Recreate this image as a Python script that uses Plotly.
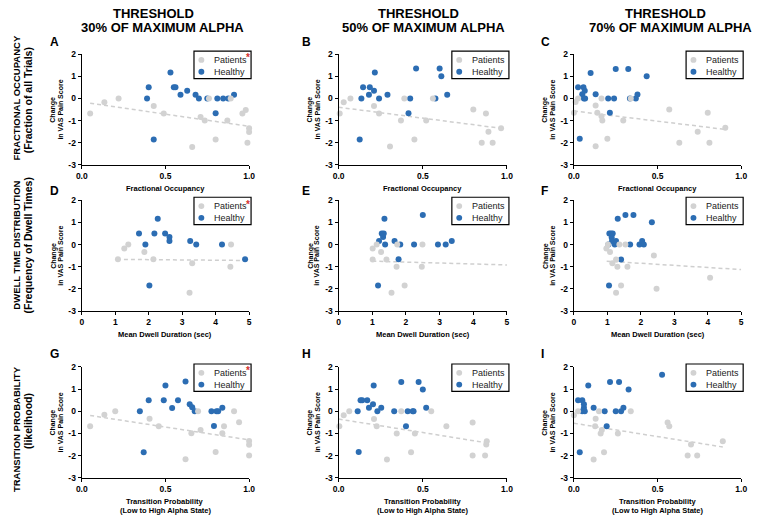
import plotly.graph_objects as go

W, H = 760, 523
FONT = "Liberation Sans"

# ---------------- text ----------------
col_title_top = ["THRESHOLD", "THRESHOLD", "THRESHOLD"]
col_title_bottom = ["30% OF MAXIMUM ALPHA", "50% OF MAXIMUM ALPHA", "70% OF MAXIMUM ALPHA"]
row_title_main = ["FRACTIONAL OCCUPANCY", "DWELL TIME DISTRIBUTION", "TRANSITION PROBABILITY"]
row_title_sub = ["(Fraction of all Trials)", "(Frequency of Dwell Times)", "(likelihood)"]
panel_letters = ["A", "B", "C", "D", "E", "F", "G", "H", "I"]
x_title_lines = [["Fractional Occupancy"], ["Mean Dwell Duration (sec)"],
                 ["Transition Probability", "(Low to High Alpha State)"]]
y_title_lines = ["Change", "in VAS Pain Score"]
legend_names = ["Patients", "Healthy"]
patients_starred = [True, False, False, True, False, False, True, False, False]

y_ticks = [-3, -2, -1, 0, 1, 2]
y_tick_labels = ["-3", "-2", "-1", "0", "1", "2"]
frac_ticks = [0, 0.5, 1.0]
frac_tick_labels = ["0.0", "0.5", "1.0"]
dwell_ticks = [0, 1, 2, 3, 4, 5]
dwell_tick_labels = ["0", "1", "2", "3", "4", "5"]

# ---------------- data ----------------
# A: fractional occupancy, 30%
a_pat_x = [0.05, 0.135, 0.22, 0.43, 0.49, 0.66, 0.71, 0.735, 0.76, 0.80, 0.87, 0.89, 0.96, 0.98, 1.0, 1.0, 0.99]
a_pat_y = [-0.68, -0.18, 0.0, -0.34, -0.68, -2.19, -0.84, -1.0, 0.0, -1.86, -1.0, 0.0, -0.68, -0.52, -1.35, -1.52, -2.0]
a_hea_x = [0.39, 0.40, 0.43, 0.53, 0.55, 0.56, 0.59, 0.63, 0.68, 0.70, 0.75, 0.80, 0.81, 0.845, 0.875, 0.91]
a_hea_y = [0.0, 0.5, -1.86, 1.17, 0.5, 0.5, 0.16, 0.34, 0.16, 0.0, 0.0, -0.67, 0.0, 0.0, 0.0, 0.16]
a_fit_x = [0.05, 1.0]
a_fit_y = [-0.22, -1.26]

# B: fractional occupancy, 50%
b_pat_x = [0.006, 0.03, 0.07, 0.21, 0.24, 0.305, 0.37, 0.39, 0.45, 0.52, 0.56, 0.80, 0.85, 0.875, 0.89, 0.915, 0.965]
b_pat_y = [-0.68, -0.18, 0.0, -0.34, -0.68, -2.17, -1.0, 0.0, -1.85, -1.0, 0.0, -0.5, -2.0, -0.68, -1.5, -2.0, -1.35]
b_hea_x = [0.125, 0.135, 0.145, 0.18, 0.185, 0.21, 0.215, 0.24, 0.29, 0.415, 0.425, 0.46, 0.575, 0.60, 0.61, 0.645]
b_hea_y = [-1.85, 0.0, 0.5, 0.16, 0.5, 0.34, 1.17, 0.0, 0.16, -0.67, 0.0, 1.35, 0.0, 1.35, 1.0, 0.16]
b_fit_x = [0.0, 0.975]
b_fit_y = [-0.40, -1.36]

# C: fractional occupancy, 70%
c_pat_x = [0.0, 0.01, 0.025, 0.13, 0.14, 0.13, 0.165, 0.165, 0.17, 0.20, 0.295, 0.34, 0.57, 0.63, 0.74, 0.80, 0.81, 0.905]
c_pat_y = [-0.65, -0.16, 0.0, -0.32, -0.65, -2.16, 0.0, -0.81, -1.0, -1.82, -1.0, 0.0, -0.5, -2.0, -1.5, -0.65, -2.0, -1.32]
c_hea_x = [0.025, 0.035, 0.05, 0.057, 0.065, 0.06, 0.067, 0.10, 0.13, 0.205, 0.215, 0.24, 0.25, 0.325, 0.335, 0.37, 0.38, 0.435]
c_hea_y = [0.5, -1.82, 0.19, 0.5, 0.34, 0.0, 0.0, 1.15, 0.19, 0.0, -0.65, 0.0, 1.32, 1.32, 0.0, 0.0, 0.18, 1.0]
c_fit_x = [0.0, 0.905]
c_fit_y = [-0.57, -1.40]

# D: dwell duration, 30%
d_pat_x = [1.08, 1.27, 1.39, 1.87, 2.14, 3.22, 3.30, 4.46, 4.44]
d_pat_y = [-0.66, -0.18, 0.0, -0.34, -0.66, -2.17, -0.84, 0.0, -1.0]
d_hea_x = [1.71, 1.90, 2.02, 2.17, 2.27, 2.49, 2.62, 2.62, 3.24, 3.42, 4.19, 4.88]
d_hea_y = [0.5, 0.0, -1.85, 0.5, 1.16, 0.5, 0.34, 0.16, 0.16, 0.0, 0.0, -0.66]
d_fit_x = [1.05, 5.0]
d_fit_y = [-0.67, -0.72]

# E: dwell duration, 50%
e_pat_x = [1.01, 1.01, 1.13, 1.26, 1.42, 1.57, 1.72, 1.74, 1.96, 2.47, 2.49]
e_pat_y = [-0.18, -0.67, 0.0, -0.34, -0.67, -2.17, -1.0, 0.0, -1.85, -1.0, 0.0]
e_hea_x = [1.17, 1.20, 1.28, 1.32, 1.34, 1.36, 1.38, 1.66, 1.78, 1.83, 2.24, 2.50, 2.95, 3.18, 3.36]
e_hea_y = [-1.85, 0.16, 0.5, 0.34, 0.5, 1.16, 0.0, 0.16, -0.66, 0.0, 0.0, 1.33, 0.0, 0.0, 0.16]
e_fit_x = [1.0, 5.0]
e_fit_y = [-0.75, -0.92]

# F: dwell duration, 70%
f_pat_x = [0.97, 1.02, 1.08, 1.15, 1.26, 1.26, 1.30, 1.36, 1.41, 1.54, 1.60, 2.39, 2.47, 4.07]
f_pat_y = [-0.18, 0.0, -0.34, -0.84, -0.67, -2.17, -1.0, 0.0, -1.85, 0.0, -1.0, -0.5, -2.0, -1.5]
f_hea_x = [1.03, 1.05, 1.06, 1.11, 1.13, 1.14, 1.16, 1.22, 1.26, 1.31, 1.41, 1.54, 1.68, 1.78, 1.96, 2.04, 2.09, 2.33]
f_hea_y = [0.0, -1.85, 0.5, 0.5, 0.32, 0.16, 0.5, 0.0, 0.16, 1.16, -0.67, 1.33, 0.0, 1.33, 0.0, 0.16, 0.0, 1.0]
f_fit_x = [0.98, 5.0]
f_fit_y = [-0.75, -1.13]

# G: transition probability, 30%
g_pat_x = [0.05, 0.135, 0.20, 0.405, 0.46, 0.62, 0.655, 0.695, 0.71, 0.80, 0.84, 0.85, 0.91, 0.94, 1.0, 1.0, 1.0]
g_pat_y = [-0.68, -0.16, 0.0, -0.34, -0.68, -2.16, -0.99, 0.0, -0.84, -1.84, -0.99, -0.68, 0.0, -0.5, -1.34, -1.51, -2.0]
g_hea_x = [0.347, 0.37, 0.40, 0.49, 0.50, 0.54, 0.575, 0.62, 0.645, 0.66, 0.675, 0.775, 0.79, 0.805, 0.815, 0.84]
g_hea_y = [0.0, -1.85, 0.5, 0.5, 1.16, 0.15, 0.5, 1.34, 0.32, 0.18, 0.0, 0.0, -0.66, 0.0, 0.0, 0.16]
g_fit_x = [0.05, 1.0]
g_fit_y = [-0.19, -1.29]

# H: transition probability, 50%
h_pat_x = [0.004, 0.03, 0.063, 0.21, 0.226, 0.287, 0.345, 0.372, 0.43, 0.453, 0.55, 0.64, 0.796, 0.796, 0.87, 0.88, 0.877]
h_pat_y = [-0.67, -0.18, 0.0, -0.35, -0.67, -2.17, -1.0, 0.0, -1.85, -1.0, 0.0, -0.67, -0.51, -2.0, -2.0, -1.35, -1.5]
h_hea_x = [0.113, 0.119, 0.13, 0.14, 0.17, 0.18, 0.204, 0.208, 0.23, 0.253, 0.33, 0.372, 0.40, 0.41, 0.44, 0.445, 0.475, 0.50, 0.52]
h_hea_y = [0.0, -1.84, 0.5, 0.5, 0.5, 0.16, 0.32, 1.16, 0.0, 0.16, 0.0, 1.32, -0.67, 0.0, 0.0, 0.0, 1.32, 0.98, 0.16]
h_fit_x = [0.0, 0.877]
h_fit_y = [-0.35, -1.42]

# I: transition probability, 70%
i_pat_x = [0.0, 0.025, 0.13, 0.127, 0.118, 0.15, 0.167, 0.16, 0.18, 0.263, 0.34, 0.56, 0.57, 0.68, 0.70, 0.737, 0.89]
i_pat_y = [-0.18, 0.0, -0.34, -0.67, -2.17, 0.0, -0.85, -1.0, -1.85, -1.0, 0.0, -0.51, -0.67, -2.0, -1.5, -2.0, -1.35]
i_hea_x = [0.025, 0.035, 0.05, 0.06, 0.06, 0.05, 0.065, 0.086, 0.118, 0.184, 0.196, 0.216, 0.25, 0.27, 0.282, 0.296, 0.327, 0.527]
i_hea_y = [0.5, -1.85, 0.5, 0.16, 0.32, 0.0, 0.0, 1.16, 0.16, 0.0, -0.67, 1.32, 0.0, 1.32, 0.0, 0.16, 0.98, 1.65]
i_fit_x = [0.0, 0.89]
i_fit_y = [-0.54, -1.61]

panels = [
    (a_pat_x, a_pat_y, a_hea_x, a_hea_y, a_fit_x, a_fit_y),
    (b_pat_x, b_pat_y, b_hea_x, b_hea_y, b_fit_x, b_fit_y),
    (c_pat_x, c_pat_y, c_hea_x, c_hea_y, c_fit_x, c_fit_y),
    (d_pat_x, d_pat_y, d_hea_x, d_hea_y, d_fit_x, d_fit_y),
    (e_pat_x, e_pat_y, e_hea_x, e_hea_y, e_fit_x, e_fit_y),
    (f_pat_x, f_pat_y, f_hea_x, f_hea_y, f_fit_x, f_fit_y),
    (g_pat_x, g_pat_y, g_hea_x, g_hea_y, g_fit_x, g_fit_y),
    (h_pat_x, h_pat_y, h_hea_x, h_hea_y, h_fit_x, h_fit_y),
    (i_pat_x, i_pat_y, i_hea_x, i_hea_y, i_fit_x, i_fit_y),
]

# ---------------- style / layout ----------------
GRAY = "#d2d2d2"
BLUE = "#2c6db3"
FIT = "#cfcfcf"
STAR = "#d4302b"
MS = 6

col_px = [(77, 247), (338, 509), (577, 747)]
row_px = [(50, 163), (199, 312), (369, 482)]
letter_x = [43, 299, 542]
letter_y = [38, 190, 356]
head_x = [(150, 159), (419, 424), (670, 675)]
row_label_y = [(95, 97), (245, 245), (432, 424)]


def px(x):
    return x / W


def py(y):
    return 1 - y / H


fig = go.Figure()
layout = dict(width=W, height=H, margin=dict(l=0, r=0, t=0, b=0, pad=0),
              paper_bgcolor="white", plot_bgcolor="white", showlegend=False,
              font=dict(family=FONT, color="black"))
annotations = []
shapes = []

axis_common = dict(showline=True, linecolor="black", linewidth=1.3, ticks="outside",
                   ticklen=3, tickwidth=1.3, tickcolor="black", showgrid=False,
                   zeroline=False, fixedrange=True,
                   tickfont=dict(family=FONT, size=8.5, color="black", weight="bold"))


def note(text, x, y, size, xanchor="center", angle=0, color="black"):
    annotations.append(dict(text=text, x=px(x), y=py(y), xref="paper", yref="paper",
                            xanchor=xanchor, yanchor="middle", textangle=angle,
                            showarrow=False, font=dict(size=size, family=FONT, color=color)))


for k, (pxs, pys, hxs, hys, fxs, fys) in enumerate(panels):
    r, c = divmod(k, 3)
    n = "" if k == 0 else str(k + 1)
    xl, xr = col_px[c]
    yt, yb = row_px[r]
    if r == 1:
        xt, xtl, xrng = dwell_ticks, dwell_tick_labels, [0, 5]
    else:
        xt, xtl, xrng = frac_ticks, frac_tick_labels, [0, 1]
    layout["xaxis" + n] = dict(axis_common, domain=[px(xl), px(xr)], range=xrng,
                               tickvals=xt, ticktext=xtl, anchor="y" + n)
    layout["yaxis" + n] = dict(axis_common, domain=[py(yb), py(yt)], range=[-3, 2],
                               tickvals=y_ticks, ticktext=y_tick_labels, anchor="x" + n)

    fig.add_trace(go.Scatter(x=fxs, y=fys, mode="lines", xaxis="x" + n, yaxis="y" + n,
                             line=dict(color=FIT, width=1.5, dash="4px,3px"),
                             hoverinfo="skip", cliponaxis=False))
    fig.add_trace(go.Scatter(x=hxs, y=hys, mode="markers", name=legend_names[1],
                             xaxis="x" + n, yaxis="y" + n, cliponaxis=False,
                             marker=dict(color=BLUE, size=MS, line=dict(width=0))))
    fig.add_trace(go.Scatter(x=pxs, y=pys, mode="markers", name=legend_names[0],
                             xaxis="x" + n, yaxis="y" + n, cliponaxis=False,
                             marker=dict(color=GRAY, size=MS, line=dict(width=0))))

    # panel letter
    note("<b>%s</b>" % panel_letters[k], letter_x[c], letter_y[r], 12, xanchor="left")
    # x title
    cx = (xl + xr) / 2
    for j, line in enumerate(x_title_lines[r]):
        note("<b>%s</b>" % line, cx, yb + 24 + 9 * j, 7.5)
    # y title
    cy = (yt + yb) / 2
    for j, line in enumerate(y_title_lines):
        note("<b>%s</b>" % line, xl - 29 + 7 * j, cy, 7, angle=-90)
    # legend box
    lr = xr + 2
    ll = lr - 58
    lt = yt - 3
    lb = lt + 28
    shapes.append(dict(type="rect", xref="paper", yref="paper", x0=px(ll), x1=px(lr),
                       y0=py(lb), y1=py(lt), line=dict(color="black", width=1.2),
                       fillcolor="white", layer="above"))
    for j, (name, col) in enumerate([(legend_names[0], GRAY), (legend_names[1], BLUE)]):
        yy = lt + 9 + 12 * j
        mx = ll + 7.5
        shapes.append(dict(type="circle", xref="paper", yref="paper",
                           x0=px(mx - MS / 2), x1=px(mx + MS / 2),
                           y0=py(yy + MS / 2), y1=py(yy - MS / 2),
                           line=dict(width=0), fillcolor=col, layer="above"))
        note(name, ll + 18, yy, 9, xanchor="left", color="#222222")
        if j == 0 and patients_starred[k]:
            note("<b>*</b>", ll + 50.5, yy - 2, 10, xanchor="left", color=STAR)

# column headers
for c in range(3):
    note("<b>%s</b>" % col_title_top[c], head_x[c][0], 9, 13)
    note("<b>%s</b>" % col_title_bottom[c], head_x[c][1], 23, 13)

# row labels
for r in range(3):
    note("<b>%s</b>" % row_title_main[r], 10.5, row_label_y[r][0], 9.5, angle=-90)
    note("<b>%s</b>" % row_title_sub[r], 22.5, row_label_y[r][1], 10.5, angle=-90)

layout["annotations"] = annotations
layout["shapes"] = shapes
fig.update_layout(**layout)
fig.write_html("out.html", config={"displayModeBar": False},
               post_script="document.body.style.margin='0';document.body.style.overflow='hidden';")
